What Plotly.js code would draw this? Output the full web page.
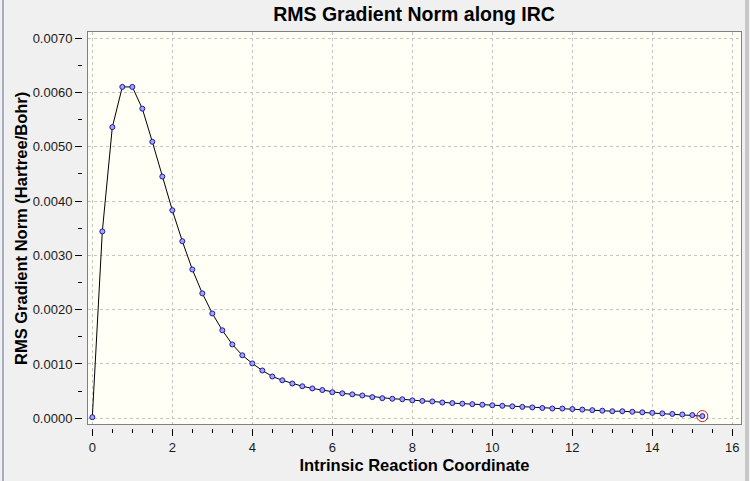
<!DOCTYPE html>
<html>
<head>
<meta charset="utf-8">
<script src="https://cdn.plot.ly/plotly-3.0.1.min.js"></script>
<style>
  html, body { margin: 0; padding: 0; background: #f0f0f0; }
  #graph { width: 750px; height: 481px; }
</style>
</head>
<body>
<div id="graph"></div>
<script>
// IRC step values (Bohr amu^1/2) and RMS gradient norm at each point
const irc = [
  0, 0.25, 0.5, 0.75, 1, 1.25, 1.5, 1.75, 2, 2.25, 2.5, 2.75, 3, 3.25, 3.5, 3.75,
  4, 4.25, 4.5, 4.75, 5, 5.25, 5.5, 5.75, 6, 6.25, 6.5, 6.75, 7, 7.25, 7.5, 7.75,
  8, 8.25, 8.5, 8.75, 9, 9.25, 9.5, 9.75, 10, 10.25, 10.5, 10.75, 11, 11.25, 11.5, 11.75,
  12, 12.25, 12.5, 12.75, 13, 13.25, 13.5, 13.75, 14, 14.25, 14.5, 14.75, 15, 15.25
];
const gradNorm = [
  0.00002, 0.00344, 0.00536, 0.00610, 0.00610, 0.00570, 0.00509, 0.00445, 0.00383,
  0.00326, 0.00274, 0.00230, 0.00193, 0.00162, 0.00136, 0.00116, 0.00101, 0.00088,
  0.00077, 0.00070, 0.00064, 0.00059, 0.00055, 0.00052, 0.00048, 0.00046, 0.00044,
  0.00042, 0.00039, 0.00037, 0.00036, 0.00035, 0.00033, 0.00032, 0.00031, 0.00029,
  0.00028, 0.00027, 0.00026, 0.00025, 0.00024, 0.00023, 0.00022, 0.00021, 0.00020,
  0.00019, 0.00018, 0.00018, 0.00017, 0.00016, 0.00015, 0.00014, 0.00013, 0.00013,
  0.00012, 0.00011, 0.00010, 0.00009, 0.00008, 0.00007, 0.00006, 0.00004
];

const xRange = [-0.108, 16.217];
const yRange = [-0.000105, 0.007111];
const font = 'Liberation Sans, Arial, sans-serif';
const last = irc.length - 1;

const traces = [
  {
    x: irc, y: gradNorm, mode: 'lines+markers', xaxis: 'x', yaxis: 'y',
    line: { color: '#000000', width: 1 },
    marker: { size: 5, color: '#a4a4f2', line: { color: '#1a1aa0', width: 1 } },
    hoverinfo: 'x+y', showlegend: false
  },
  {
    // current point highlighted
    x: [irc[last]], y: [gradNorm[last]], mode: 'markers', xaxis: 'x', yaxis: 'y',
    marker: { size: 11, symbol: 'circle-open', color: '#d01818', line: { width: 1 } },
    hoverinfo: 'skip', showlegend: false
  },
  {
    // invisible helper so the offset tick axes get drawn
    x: [irc[0]], y: [gradNorm[0]], mode: 'markers', xaxis: 'x2', yaxis: 'y2',
    marker: { opacity: 0 }, hoverinfo: 'skip', showlegend: false
  }
];

const gridStyle = { showgrid: true, gridcolor: '#c4c4c4', griddash: '3px,3px', gridwidth: 1 };

const layout = {
  width: 750, height: 481,
  margin: { l: 82, r: 9, t: 32, b: 53 },
  paper_bgcolor: '#f0f0f0',
  plot_bgcolor: 'rgba(0,0,0,0)',
  font: { family: font, size: 13, color: '#000000' },
  title: {
    text: '<b>RMS Gradient Norm along IRC</b>',
    font: { family: font, size: 19.5, color: '#000000' },
    x: 0.552, xanchor: 'center', y: 0.971, yanchor: 'middle'
  },
  xaxis: Object.assign({
    domain: [0.0091, 1], range: xRange, anchor: 'y',
    showticklabels: false, ticks: '', zeroline: false,
    showline: true, mirror: true, linecolor: '#808080', linewidth: 1
  }, gridStyle, { dtick: 2, tick0: 0 }),
  yaxis: Object.assign({
    domain: [0.0101, 1], range: yRange, anchor: 'x',
    showticklabels: false, ticks: '', zeroline: false,
    showline: true, mirror: true, linecolor: '#808080', linewidth: 1
  }, gridStyle, { dtick: 0.001, tick0: 0 }),
  xaxis2: {
    overlaying: 'x', anchor: 'free', position: 0, side: 'bottom',
    range: xRange, dtick: 2, tick0: 0, showgrid: false, zeroline: false,
    showline: false, ticks: 'outside', ticklen: 7, tickwidth: 1, tickcolor: '#000000',
    minor: { dtick: 0.5, tick0: 0, ticks: 'outside', ticklen: 4, tickcolor: '#000000', showgrid: false },
    tickfont: { family: font, size: 13, color: '#1a1a1a' },
    title: { text: '<b>Intrinsic Reaction Coordinate</b>', font: { family: font, size: 16.5 }, standoff: 5 }
  },
  yaxis2: {
    overlaying: 'y', anchor: 'free', position: 0, side: 'left',
    range: yRange, dtick: 0.001, tick0: 0, tickformat: '.4f',
    showgrid: false, zeroline: false, showline: false,
    ticks: 'outside', ticklen: 7, tickwidth: 1, tickcolor: '#000000',
    minor: { dtick: 0.0005, tick0: 0, ticks: 'outside', ticklen: 4, tickcolor: '#000000', showgrid: false },
    tickfont: { family: font, size: 13, color: '#1a1a1a' }
  },
  annotations: [
    { text: '<b>RMS Gradient Norm (Hartree/Bohr)</b>', textangle: -90, showarrow: false,
      xref: 'paper', yref: 'paper', x: -0.0926, y: 0.505, xanchor: 'center', yanchor: 'middle',
      font: { family: font, size: 16.5, color: '#000000' } }
  ],
  shapes: [
    // cream plot face inside the frame
    { type: 'rect', xref: 'x', yref: 'y', x0: xRange[0], x1: xRange[1], y0: yRange[0], y1: yRange[1],
      fillcolor: '#fffff5', line: { width: 0 }, layer: 'below' },
    // window borders
    { type: 'rect', xref: 'paper', yref: 'paper', x0: -0.1214, x1: -0.1184, y0: -0.14, y1: 1.09,
      fillcolor: '#a4aec0', line: { width: 0 } },
    { type: 'line', xref: 'paper', yref: 'paper', x0: 1.0076, x1: 1.0076, y0: -0.14, y1: 1.09,
      line: { color: '#a0a0a0', width: 1 } },
    { type: 'line', xref: 'paper', yref: 'paper', x0: 1.0106, x1: 1.0106, y0: -0.14, y1: 1.09,
      line: { color: '#a0a0a0', width: 1 } }
  ]
};

Plotly.newPlot('graph', traces, layout, { displayModeBar: false, staticPlot: true });
</script>
</body>
</html>
